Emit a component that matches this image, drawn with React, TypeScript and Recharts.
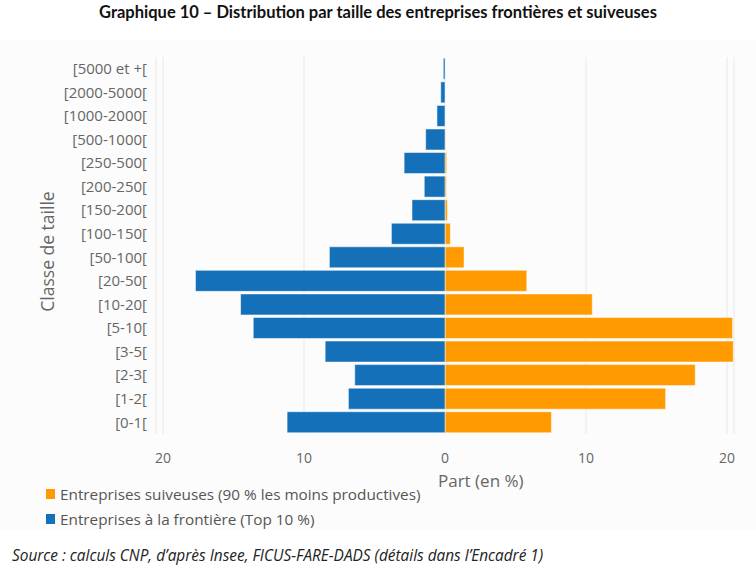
import { Bar, BarChart, CartesianGrid, Legend, XAxis, YAxis } from "recharts";

const CLASSES = [
  "[5000 et +[",
  "[2000-5000[",
  "[1000-2000[",
  "[500-1000[",
  "[250-500[",
  "[200-250[",
  "[150-200[",
  "[100-150[",
  "[50-100[",
  "[20-50[",
  "[10-20[",
  "[5-10[",
  "[3-5[",
  "[2-3[",
  "[1-2[",
  "[0-1[",
];

// part en %, entreprises à la frontière (Top 10 %), drawn to the left
const FRONTIERE = [0.12, 0.3, 0.57, 1.37, 2.9, 1.47, 2.34, 3.8, 8.2, 17.7, 14.5, 13.6, 8.5, 6.4, 6.85, 11.2];
// part en %, entreprises suiveuses (90 % les moins productives)
const SUIVEUSES = [0, 0, 0, 0.05, 0.12, 0.1, 0.17, 0.38, 1.35, 5.8, 10.45, 20.4, 20.45, 17.75, 15.65, 7.55];

const X_TICKS = [-20, -10, 0, 10, 20];

const BLUE = "#1470b8";
const ORANGE = "#ff9a00";
const FONT = "'Open Sans', 'Noto Sans', sans-serif";

const data = CLASSES.map((classe, i) => ({
  classe,
  frontiere: -FRONTIERE[i],
  suiveuses: SUIVEUSES[i],
}));

function LegendBox({ payload }: any) {
  return (
    <div style={{ fontFamily: FONT, fontSize: 15.3, color: "#555" }}>
      {(payload || []).map((p: any) => (
        <div key={p.value} style={{ display: "flex", alignItems: "center", height: 25 }}>
          <span style={{ width: 9, height: 10, background: p.color, marginRight: 5, display: "inline-block" }} />
          {p.value}
        </div>
      ))}
    </div>
  );
}

export default function App() {
  return (
    <div style={{ position: "absolute", top: 0, left: 0, width: 756, height: 578, background: "#fff" }}>
      <div
        style={{
          position: "absolute",
          top: 2,
          left: 0,
          width: 756,
          textAlign: "center",
          fontFamily: "Lato, sans-serif",
          fontWeight: 700,
          fontSize: 16.5,
          color: "#111",
        }}
      >
        Graphique 10 – Distribution par taille des entreprises frontières et suiveuses
      </div>
      <div style={{ position: "absolute", top: 40, left: 0, background: "#fcfcfc" }}>
        <BarChart
          width={756}
          height={490}
          data={data}
          layout="vertical"
          stackOffset="sign"
          barCategoryGap={1.3}
          margin={{ top: 17, right: 22, bottom: 66, left: 0 }}
        >
          <CartesianGrid horizontal={false} stroke="#e8e8e8" />
          <XAxis
            type="number"
            domain={[-20.5, 20.5]}
            ticks={X_TICKS}
            tickFormatter={(v: number) => String(Math.abs(v))}
            axisLine={false}
            tickLine={false}
            tickSize={0}
            tickMargin={19}
            height={30}
            tick={{ fill: "#666", fontSize: 14, fontFamily: FONT }}
            label={{
              content: ({ viewBox }: any) => (
                <text
                  x={viewBox.x + viewBox.width / 2 - 7}
                  y={viewBox.y + 53}
                  fill="#666"
                  fontSize={17}
                  fontFamily={FONT}
                >
                  Part (en %)
                </text>
              ),
            }}
          />
          <YAxis
            type="category"
            dataKey="classe"
            width={156}
            axisLine={false}
            tickLine={false}
            tickSize={0}
            tickMargin={9}
            interval={0}
            tick={{ fill: "#666", fontSize: 15, fontFamily: FONT }}
            label={{
              content: ({ viewBox }: any) => {
                const x = viewBox.x + 47;
                const y = viewBox.y + viewBox.height / 2 + 6;
                return (
                  <text
                    x={x}
                    y={y}
                    transform={`rotate(-90, ${x}, ${y})`}
                    textAnchor="middle"
                    dominantBaseline="central"
                    fill="#666"
                    fontSize={17.5}
                    fontFamily={FONT}
                  >
                    Classe de taille
                  </text>
                );
              },
            }}
          />
          <Legend
            layout="horizontal"
            verticalAlign="middle"
            align="center"
            wrapperStyle={{ top: 441, left: 46, width: 500 }}
            content={<LegendBox />}
          />
          <Bar
            dataKey="suiveuses"
            name="Entreprises suiveuses (90 % les moins productives)"
            stackId="s"
            fill={ORANGE}
            stroke="#fff"
            strokeOpacity={0.5}
            isAnimationActive={false}
          />
          <Bar
            dataKey="frontiere"
            name="Entreprises à la frontière (Top 10 %)"
            stackId="s"
            fill={BLUE}
            stroke="#fff"
            strokeOpacity={0.5}
            isAnimationActive={false}
          />
        </BarChart>
      </div>
      <div
        style={{
          position: "absolute",
          top: 545,
          left: 12,
          fontFamily: FONT,
          fontStyle: "italic",
          fontSize: 15.4,
          color: "#222",
        }}
      >
        Source : calculs CNP, d’après Insee, FICUS-FARE-DADS (détails dans l’Encadré 1)
      </div>
    </div>
  );
}
